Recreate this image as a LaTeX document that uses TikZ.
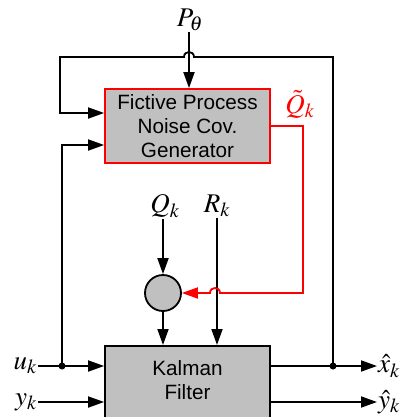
\documentclass[tikz,border=0pt]{standalone}
\usepackage{mathptmx}
\usepackage[no-math]{fontspec}
\setmainfont{Liberation Sans}
\usetikzlibrary{arrows.meta}

\definecolor{boxgray}{RGB}{192,192,192}
\newcommand{\blkfont}{\fontsize{20.7bp}{24bp}\selectfont}
\newcommand{\lblfont}{\fontsize{27bp}{32bp}\selectfont}

\begin{document}
\begin{tikzpicture}[x=1bp, y=-1bp, >={Triangle[length=16bp,width=11bp]},
    line/.style={line width=1.8bp},
    blk/.style={draw, line width=1.8bp, fill=boxgray, minimum width=165bp,
        font=\blkfont, align=center, inner sep=0pt},
    lbl/.style={font=\lblfont, inner sep=1bp},
    dot/.style={circle, fill, inner sep=0pt, minimum size=7bp}]
        \clip (0,0) rectangle (402,417);

        % ==============================================================
        % 1. BLOCS
        % ==============================================================
        \node[blk, draw=red, minimum height=74bp] (fpn) at (187.5,126)
            {Fictive Process\\Noise Cov.\\Generator};
        \node[blk, anchor=north, minimum height=100bp] (kf) at (187.5,345) {};
        \node[font=\blkfont, align=center] (kftext) at (187.5,380) {Kalman\\Filter};
        \node[circle, draw, line width=1.8bp, fill=boxgray, minimum size=36bp,
            inner sep=0pt] (sum) at (163,293) {};

        % --- Labels ---
        \node[lbl] (ptheta) at (190,20) {$P_\theta$};
        \node[lbl, text=red] (qtilde) at (300,104) {$\tilde{Q}_k$};
        \node[lbl] (qk) at (165,206) {$Q_k$};
        \node[lbl] (rk) at (217,206) {$R_k$};
        \node[lbl, anchor=east] (uk) at (38,366) {$u_k$};
        \node[lbl, anchor=east] (yk) at (38,402) {$y_k$};
        \node[lbl, anchor=west] (xhat) at (377,366) {$\hat{x}_k$};
        \node[lbl, anchor=west] (yhat) at (377,402) {$\hat{y}_k$};

        % --- Points de passage ---
        \coordinate (ujn)  at (62,366);
        \coordinate (xjn)  at (333,366);
        \coordinate (ulft) at (62,145);
        \coordinate (ltop) at (60,57);
        \coordinate (rtop) at (333,57);
        \coordinate (lin)  at (60,113);
        \coordinate (rcor) at (303,126);
        \coordinate (rbot) at (303,293);

        % ==============================================================
        % 2. LIAISONS
        % ==============================================================
        % Entree P_theta
        \draw[line, ->] (ptheta.south -| 189,0) -- (189,0 |- fpn.north);

        % Retour de l'estimation (saut au-dessus de P_theta)
        \draw[line, ->] (xjn) -- (rtop) -- (194,57)
            .. controls (194,50.3) and (184,50.3) .. (184,57)
            -- (ltop) -- (lin) -- (lin -| fpn.west);

        % Entree u_k vers le generateur
        \draw[line, ->] (ujn) -- (ulft) -- (ulft -| fpn.west);

        % Q_k, R_k et sortie du sommateur
        \draw[line, ->] (sum.north |- qk.south) -- (sum.north);
        \draw[line, ->] (rk.south) -- (rk.south |- kf.north);
        \draw[line, ->] (sum.south) -- (sum.south |- kf.north);

        % Sortie du generateur (saut au-dessus de R_k)
        \draw[line, red, ->] (fpn.east) -- (rcor) -- (rbot) -- (220,293)
            .. controls (220,286.3) and (210,286.3) .. (210,293) -- (sum.east);

        % Entrees et sorties du filtre
        \draw[line, ->] (uk.east) -- (uk.east -| kf.west);
        \draw[line, ->] (yk.east) -- (yk.east -| kf.west);
        \draw[line, ->] (uk.east -| kf.east) -- (xhat.west);
        \draw[line, ->] (yk.east -| kf.east) -- (yhat.west);

        \node[dot] (ujdot) at (ujn) {};
        \node[dot] (xjdot) at (xjn) {};
\end{tikzpicture}
\end{document}
